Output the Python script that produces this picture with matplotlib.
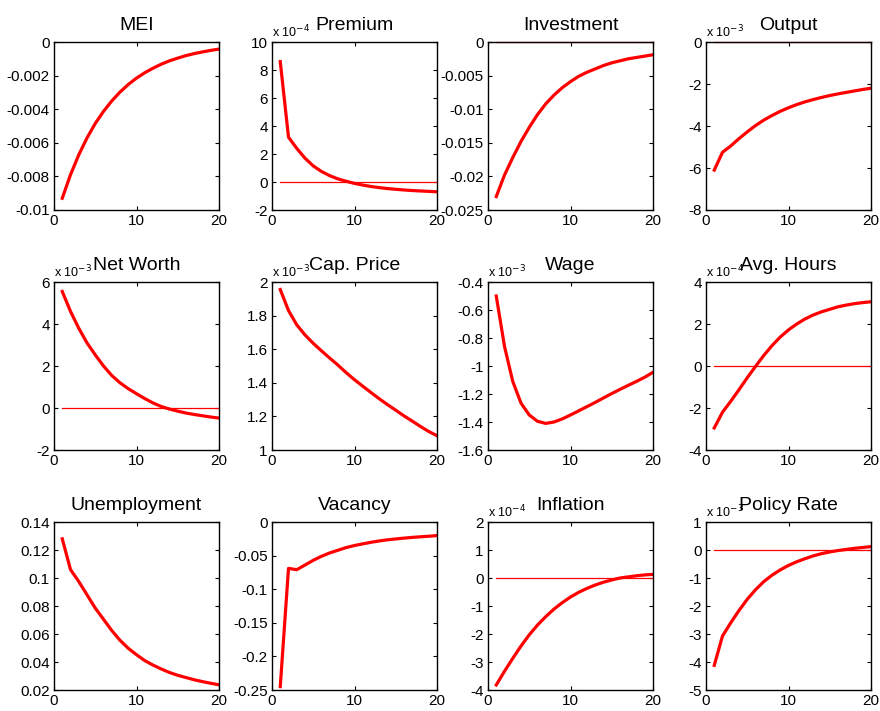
import matplotlib
matplotlib.use("Agg")
import matplotlib.pyplot as plt
from matplotlib.ticker import FuncFormatter, FixedLocator

plt.rcParams['font.family'] = ['Liberation Sans', 'DejaVu Sans']

periods = list(range(1, 21))

titles = ["MEI", "Premium", "Investment", "Output",
          "Net Worth", "Cap. Price", "Wage", "Avg. Hours",
          "Unemployment", "Vacancy", "Inflation", "Policy Rate"]

# scale exponents shown as "x 10^k" (None = no multiplier)
exponents = [None, -4, None, -3,
             -3, -3, -3, -4,
             None, None, -4, -3]

# whether a zero reference line is drawn
zero_line = [False, True, True, True,
             True, False, False, True,
             False, False, True, True]

mei = [-0.0093, -0.0079, -0.00672, -0.00571, -0.00485, -0.00413, -0.00351, -0.00298,
       -0.00253, -0.00215, -0.00183, -0.00156, -0.00132, -0.00112, -0.00096, -0.00081,
       -0.00069, -0.00059, -0.0005, -0.00042]
premium = [8.6, 3.2, 2.4, 1.7, 1.15, 0.75, 0.45, 0.22, 0.05, -0.1,
           -0.22, -0.32, -0.4, -0.47, -0.52, -0.57, -0.61, -0.64, -0.67, -0.7]
investment = [-0.023, -0.0198, -0.0172, -0.0148, -0.0127, -0.0108, -0.0092, -0.0079,
              -0.0068, -0.0059, -0.0051, -0.0045, -0.0040, -0.0035, -0.0031, -0.0028,
              -0.0025, -0.0023, -0.0021, -0.0019]
output = [-6.1, -5.25, -4.95, -4.6, -4.28, -3.98, -3.72, -3.5, -3.3, -3.13,
          -2.98, -2.85, -2.74, -2.64, -2.55, -2.47, -2.4, -2.33, -2.26, -2.2]
net_worth = [5.55, 4.6, 3.8, 3.1, 2.53, 2.0, 1.55, 1.2, 0.92, 0.68,
             0.45, 0.24, 0.07, -0.05, -0.15, -0.24, -0.31, -0.37, -0.43, -0.48]
cap_price = [1.955, 1.83, 1.745, 1.685, 1.635, 1.59, 1.547, 1.505, 1.46, 1.418,
             1.38, 1.342, 1.305, 1.27, 1.237, 1.203, 1.172, 1.14, 1.11, 1.085]
wage = [-0.5, -0.86, -1.11, -1.265, -1.35, -1.395, -1.41, -1.4, -1.378, -1.35,
        -1.32, -1.29, -1.26, -1.228, -1.197, -1.167, -1.138, -1.11, -1.08, -1.045]
avg_hours = [-2.95, -2.2, -1.68, -1.13, -0.56, -0.02, 0.5, 0.97, 1.38, 1.72,
             2.0, 2.24, 2.43, 2.58, 2.7, 2.82, 2.9, 2.97, 3.02, 3.06]
unemployment = [0.128, 0.106, 0.0975, 0.088, 0.0785, 0.0705, 0.0625, 0.0555, 0.0498, 0.0452,
                0.041, 0.0378, 0.035, 0.0325, 0.0305, 0.0289, 0.0273, 0.026, 0.0248, 0.0237]
vacancy = [-0.245, -0.069, -0.071, -0.064, -0.057, -0.051, -0.046, -0.042, -0.038, -0.035,
           -0.0325, -0.0302, -0.0282, -0.0265, -0.0252, -0.024, -0.0229, -0.022, -0.0212, -0.0202]
inflation = [-3.82, -3.33, -2.87, -2.43, -2.03, -1.68, -1.38, -1.11, -0.88, -0.68,
             -0.51, -0.37, -0.25, -0.15, -0.07, 0.0, 0.04, 0.08, 0.11, 0.13]
policy_rate = [-4.12, -3.07, -2.6, -2.16, -1.76, -1.42, -1.13, -0.9, -0.71, -0.55,
               -0.42, -0.31, -0.21, -0.13, -0.07, -0.02, 0.02, 0.06, 0.09, 0.12]

series = [mei, premium, investment, output,
          net_worth, cap_price, wage, avg_hours,
          unemployment, vacancy, inflation, policy_rate]

ylims = [(-0.01, 0), (-2, 10), (-0.025, 0), (-8, 0),
         (-2, 6), (1, 2), (-1.6, -0.4), (-4, 4),
         (0.02, 0.14), (-0.25, 0), (-4, 2), (-5, 1)]

yticks = [[-0.01, -0.008, -0.006, -0.004, -0.002, 0],
          [-2, 0, 2, 4, 6, 8, 10],
          [-0.025, -0.02, -0.015, -0.01, -0.005, 0],
          [-8, -6, -4, -2, 0],
          [-2, 0, 2, 4, 6],
          [1, 1.2, 1.4, 1.6, 1.8, 2],
          [-1.6, -1.4, -1.2, -1, -0.8, -0.6, -0.4],
          [-4, -2, 0, 2, 4],
          [0.02, 0.04, 0.06, 0.08, 0.1, 0.12, 0.14],
          [-0.25, -0.2, -0.15, -0.1, -0.05, 0],
          [-4, -3, -2, -1, 0, 1, 2],
          [-5, -4, -3, -2, -1, 0, 1]]

xticks = [0, 10, 20]

fig = plt.figure(figsize=(8.8, 7.11), dpi=100)

W, H = 880.0, 711.0
col_left = [54, 272, 488, 706]
col_w = 165
row_top = [42, 282, 522]
row_h = 168

fmt = FuncFormatter(lambda v, p: ('%g' % round(v, 6)) if abs(v) > 1e-12 else '0')

for i in range(12):
    r, c = divmod(i, 4)
    ax = fig.add_axes([col_left[c] / W, 1 - (row_top[r] + row_h) / H, col_w / W, row_h / H])
    ax.plot(periods, series[i], color='#ff0000', lw=2.3, solid_joinstyle='round', zorder=3)
    if zero_line[i]:
        ax.plot(periods, [0] * len(periods), color='#ff0000', lw=0.9, zorder=2, clip_on=False)
    ax.set_xlim(0, 20)
    ax.set_ylim(*ylims[i])
    ax.xaxis.set_major_locator(FixedLocator(xticks))
    ax.yaxis.set_major_locator(FixedLocator(yticks[i]))
    ax.yaxis.set_major_formatter(fmt)
    ax.xaxis.set_major_formatter(FuncFormatter(lambda v, p: '%g' % v))
    ax.tick_params(direction='in', length=3, width=0.8, top=True, right=True,
                   labelsize=11, colors='black', pad=3)
    for s in ax.spines.values():
        s.set_linewidth(1.0)
        s.set_zorder(4)
    ax.set_title(titles[i], fontsize=14, pad=9)
    if exponents[i] is not None:
        ax.text(0.0, 1.012, 'x 10$^{%d}$' % exponents[i], transform=ax.transAxes,
                ha='left', va='bottom', fontsize=9)

fig.savefig('out.png', dpi=100)
